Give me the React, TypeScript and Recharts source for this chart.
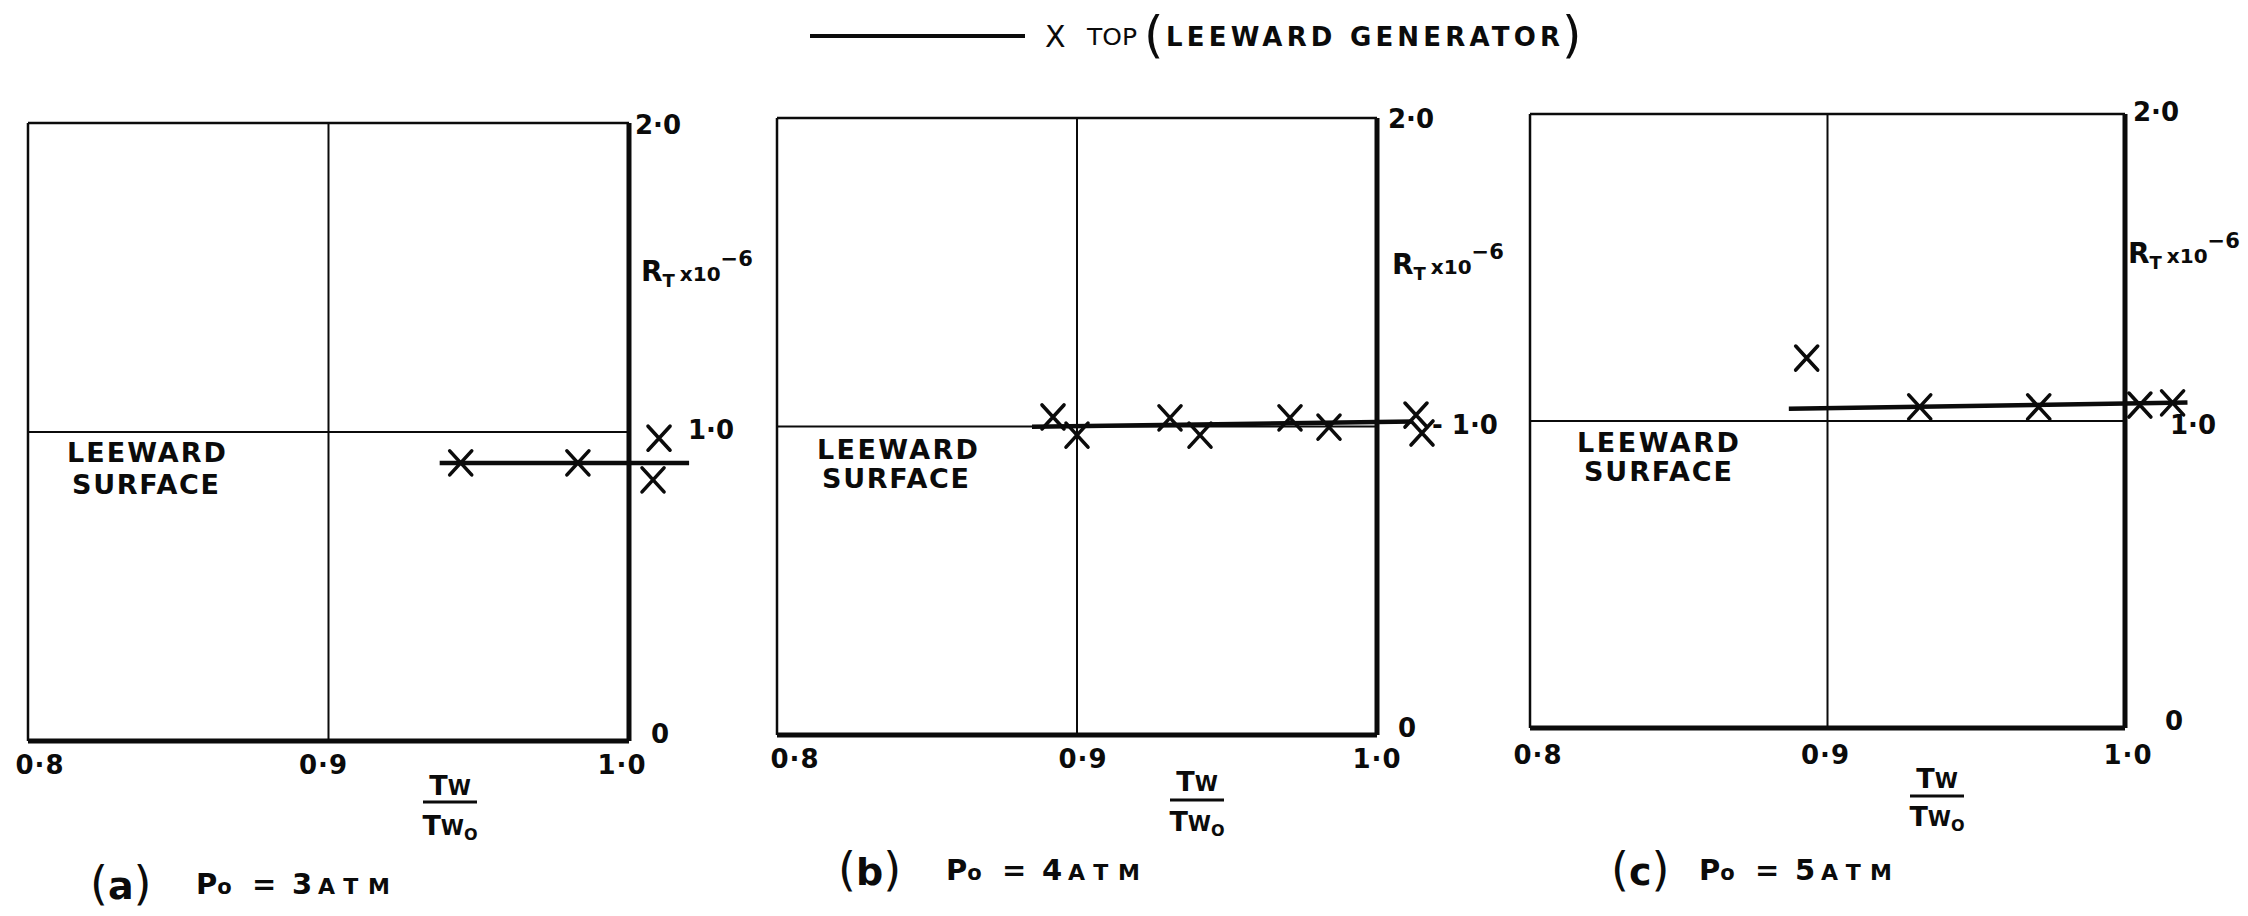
import React from "react";
import { ComposedChart, Line, Scatter, XAxis, YAxis, ReferenceLine } from "recharts";

const INK = "#0b0b0b";
const FONT = "'DejaVu Sans', sans-serif";

const xTicks = [0.8, 0.9, 1.0];
const xTickLabels = ["0·8", "0·9", "1·0"];
const yTickLabels = ["0", "1·0", "2·0"];

// (a) Po = 3 atm
const pointsA = [
  { x: 0.944, y: 0.9 },
  { x: 0.983, y: 0.9 },
  { x: 1.01, y: 0.98 },
  { x: 1.008, y: 0.845 },
];
const lineA = [
  { x: 0.937, y: 0.9 },
  { x: 1.02, y: 0.9 },
];

// (b) Po = 4 atm
const pointsB = [
  { x: 0.892, y: 1.031 },
  { x: 0.9, y: 0.972 },
  { x: 0.931, y: 1.028 },
  { x: 0.941, y: 0.972 },
  { x: 0.971, y: 1.028 },
  { x: 0.984, y: 0.998 },
  { x: 1.013, y: 1.037 },
  { x: 1.015, y: 0.979 },
];
const lineB = [
  { x: 0.885, y: 0.999 },
  { x: 1.012, y: 1.016 },
];

// (c) Po = 5 atm
const pointsC = [
  { x: 0.893, y: 1.205 },
  { x: 0.931, y: 1.046 },
  { x: 0.971, y: 1.046 },
  { x: 1.005, y: 1.052 },
  { x: 1.016, y: 1.059 },
];
const lineC = [
  { x: 0.887, y: 1.04 },
  { x: 1.021, y: 1.06 },
];

const X_MAX = 1.04;

// plot rectangles (0.8..1.0 by 0..2) and label offsets, in page pixels
const panels = [
  {
    id: "a", points: pointsA, line: lineA, L: 28, R: 629, T: 123, B: 741,
    tickDx: [12, -5, -7], tickDy: 33,
    yLab: [{ dx: 22, dy: -7 }, { dx: 59, dy: -2, text: "1·0" }, { dx: 6, dy: 2 }],
  },
  {
    id: "b", points: pointsB, line: lineB, L: 777, R: 1377, T: 118, B: 735,
    tickDx: [18, 6, 0], tickDy: 33,
    yLab: [{ dx: 21, dy: -7 }, { dx: 55, dy: -2, text: "- 1·0" }, { dx: 11, dy: 1 }],
  },
  {
    id: "c", points: pointsC, line: lineC, L: 1530, R: 2125, T: 114, B: 728,
    tickDx: [8, -2, 3], tickDy: 36,
    yLab: [{ dx: 40, dy: -7 }, { dx: 45, dy: 4, text: "1·0" }, { dx: 8, dy: -2 }],
  },
];

const Cross = (props: any) => {
  const { cx, cy } = props;
  if (cx == null || cy == null) return null;
  return (
    <path
      d={`M${cx - 11},${cy - 12}L${cx + 11},${cy + 12}M${cx + 11},${cy - 12}L${cx - 11},${cy + 12}`}
      stroke={INK}
      strokeWidth={3.6}
      strokeLinecap="round"
      fill="none"
    />
  );
};

const sideLabel = (text: string, dx: number, dy: number) => (props: any) => {
  const vb = props.viewBox || {};
  const x = (vb.x ?? 0) + (vb.width ?? 0) + dx;
  const y = (vb.y ?? 0) + (vb.height ?? 0) / 2 + dy;
  return (
    <text x={x} y={y} dominantBaseline="central" fontFamily={FONT} fontWeight="bold" fontSize={26} fill={INK}>
      {text}
    </text>
  );
};

function Panel({ p }: { p: any }) {
  const plotW = ((p.R - p.L) * (X_MAX - 0.8)) / 0.2;
  const ml = 34;
  const mr = 12;
  const axisH = 40;
  const frame = { stroke: INK, ifOverflow: "visible" as const };
  return (
    <div style={{ position: "absolute", left: p.L - ml, top: 0 }}>
      <ComposedChart
        width={ml + plotW + mr}
        height={916}
        margin={{ top: p.T, right: mr, bottom: 916 - p.B - axisH, left: ml }}
      >
        <XAxis
          type="number"
          dataKey="x"
          domain={[0.8, X_MAX]}
          ticks={xTicks}
          interval={0}
          axisLine={false}
          tickLine={false}
          height={axisH}
          tick={(tp: any) => (
            <text
              x={tp.x + p.tickDx[tp.index]}
              y={p.B + p.tickDy}
              textAnchor="middle"
              fontFamily={FONT}
              fontWeight="bold"
              fontSize={26}
              letterSpacing={1}
              fill={INK}
            >
              {xTickLabels[tp.index]}
            </text>
          )}
        />
        <YAxis type="number" dataKey="y" domain={[0, 2]} hide />
        <ReferenceLine {...frame} strokeWidth={2.5} segment={[{ x: 0.8, y: 0 }, { x: 0.8, y: 2 }]} />
        <ReferenceLine
          {...frame}
          strokeWidth={2.5}
          segment={[{ x: 0.8, y: 2 }, { x: 1.0, y: 2 }]}
          label={{ content: sideLabel(yTickLabels[2], p.yLab[2].dx, p.yLab[2].dy) }}
        />
        <ReferenceLine {...frame} strokeWidth={2} segment={[{ x: 0.9, y: 0 }, { x: 0.9, y: 2 }]} />
        <ReferenceLine
          {...frame}
          strokeWidth={2}
          segment={[{ x: 0.8, y: 1 }, { x: 1.0, y: 1 }]}
          label={{ content: sideLabel(p.yLab[1].text, p.yLab[1].dx, p.yLab[1].dy) }}
        />
        <ReferenceLine {...frame} strokeWidth={5} segment={[{ x: 1.0, y: 0 }, { x: 1.0, y: 2 }]} />
        <ReferenceLine
          {...frame}
          strokeWidth={5}
          segment={[{ x: 0.8, y: 0 }, { x: 1.0, y: 0 }]}
          label={{ content: sideLabel(yTickLabels[0], p.yLab[0].dx, p.yLab[0].dy) }}
        />
        <Line
          data={p.line}
          dataKey="y"
          type="linear"
          stroke={INK}
          strokeWidth={4.5}
          dot={false}
          activeDot={false}
          isAnimationActive={false}
        />
        <Scatter data={p.points} dataKey="y" shape={Cross} isAnimationActive={false} />
      </ComposedChart>
    </div>
  );
}

const txt = { fontFamily: FONT, fontWeight: "bold" as const, fill: INK };

function RT({ x, cy }: { x: number; cy: number }) {
  return (
    <text x={x} y={cy + 10} {...txt} fontSize={28}>
      R
      <tspan fontSize={18} dy={6}>T</tspan>
      <tspan fontSize={20} dy={-6} dx={5}>x10</tspan>
      <tspan fontSize={21} dy={-15}>−6</tspan>
    </text>
  );
}

function Frac({ cx, top, bar, bottom }: { cx: number; top: number; bar: number; bottom: number }) {
  return (
    <g>
      <text x={cx} y={top + 10} textAnchor="middle" {...txt} fontSize={27}>
        T<tspan fontSize={21}>W</tspan>
      </text>
      <line x1={cx - 27} x2={cx + 27} y1={bar} y2={bar} stroke={INK} strokeWidth={3} />
      <text x={cx} y={bottom + 9} textAnchor="middle" {...txt} fontSize={27}>
        T<tspan fontSize={21}>W</tspan>
        <tspan fontSize={16} dy={5}>O</tspan>
      </text>
    </g>
  );
}

function Caption({ x, cy, letter, p, num, atmLen }: any) {
  return (
    <g>
      <text x={x} y={cy + 15} {...txt} fontSize={46} fontWeight="normal">
        (<tspan fontWeight="bold" fontSize={38}>{letter}</tspan>)
      </text>
      <text x={p} y={cy + 10} {...txt} fontSize={29}>
        P<tspan fontSize={21}>o</tspan>
      </text>
      <text x={p + 56} y={cy + 10} {...txt} fontSize={29}>=</text>
      <text x={p + 96} y={cy + 10} {...txt} fontSize={29}>{num}</text>
      <text x={p + 122} y={cy + 10} {...txt} fontSize={22} textLength={atmLen} lengthAdjust="spacing">ATM</text>
    </g>
  );
}

export default function App() {
  return (
    <div style={{ position: "absolute", left: 0, top: 0, width: 2248, height: 916, background: "#fff", overflow: "hidden" }}>
      {panels.map((p) => (
        <Panel key={p.id} p={p} />
      ))}
      <svg width={2248} height={916} style={{ position: "absolute", left: 0, top: 0, pointerEvents: "none" }}>
        {/* legend */}
        <line x1={810} x2={1025} y1={36} y2={36} stroke={INK} strokeWidth={4} />
        <text x={1045} y={47} {...txt} fontSize={30} fontWeight="normal">X</text>
        <text x={1087} y={45} {...txt} fontSize={23} fontWeight="normal" textLength={50} lengthAdjust="spacingAndGlyphs">TOP</text>
        <text x={1144} y={52} {...txt} fontSize={50} fontWeight="normal">(</text>
        <text x={1166} y={46} {...txt} fontSize={26} textLength={394} lengthAdjust="spacing">LEEWARD GENERATOR</text>
        <text x={1562} y={52} {...txt} fontSize={50} fontWeight="normal">)</text>

        {/* in-panel labels */}
        <text x={67} y={462} {...txt} fontSize={27} textLength={159} lengthAdjust="spacing">LEEWARD</text>
        <text x={72} y={494} {...txt} fontSize={27} textLength={147} lengthAdjust="spacing">SURFACE</text>
        <text x={817} y={459} {...txt} fontSize={27} textLength={161} lengthAdjust="spacing">LEEWARD</text>
        <text x={822} y={488} {...txt} fontSize={27} textLength={147} lengthAdjust="spacing">SURFACE</text>
        <text x={1577} y={452} {...txt} fontSize={27} textLength={162} lengthAdjust="spacing">LEEWARD</text>
        <text x={1584} y={481} {...txt} fontSize={27} textLength={148} lengthAdjust="spacing">SURFACE</text>

        {/* y-axis titles */}
        <RT x={641} cy={271} />
        <RT x={1392} cy={264} />
        <RT x={2128} cy={253} />

        {/* x-axis titles */}
        <Frac cx={450} top={785} bar={802} bottom={826} />
        <Frac cx={1197} top={781} bar={800} bottom={822} />
        <Frac cx={1937} top={778} bar={796} bottom={817} />

        {/* captions */}
        <Caption x={90} cy={884} letter="a" p={196} num="3" atmLen={72} />
        <Caption x={838} cy={870} letter="b" p={946} num="4" atmLen={72} />
        <Caption x={1611} cy={870} letter="c" p={1699} num="5" atmLen={71} />
      </svg>
    </div>
  );
}
